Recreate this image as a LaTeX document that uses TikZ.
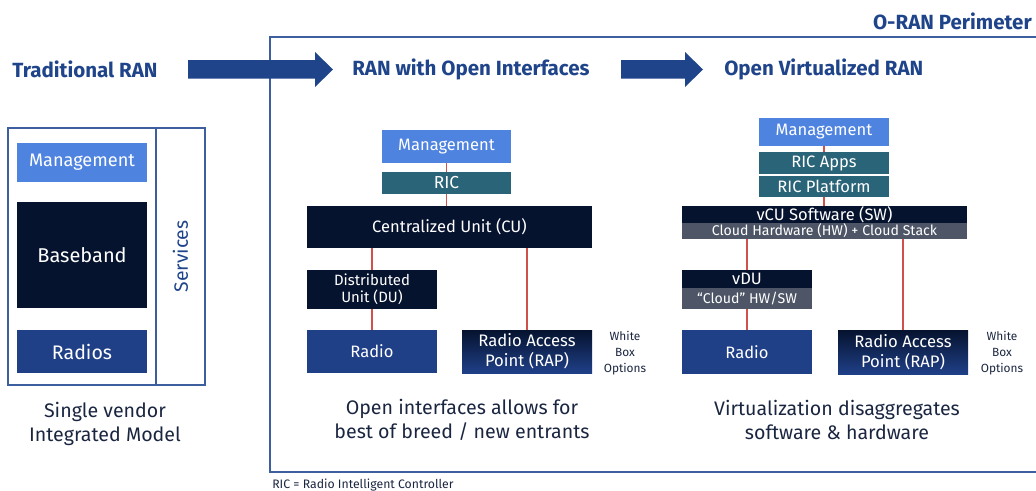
\documentclass[tikz,border=0pt]{standalone}
\usepackage{fontspec}
\setmainfont{Fira Sans}
\definecolor{headblue}{HTML}{1F448A}
\definecolor{mgmtblue}{HTML}{4F83E0}
\definecolor{navy}{HTML}{06132F}
\definecolor{tealc}{HTML}{2A6478}
\definecolor{radioblue}{HTML}{1F3F87}
\definecolor{grayc}{HTML}{4D5566}
\definecolor{linkred}{HTML}{D0504A}
\definecolor{edgeblue}{HTML}{3D5FA0}
\definecolor{capdark}{HTML}{1A2540}
\newcommand\rbox[7]{\node[#6, minimum width={(#4-#2)*0.75pt}, minimum height={(#5-#3)*0.75pt}] (#1) at ({(#2+#4)/2},{(#3+#5)/2}) {#7};}
\tikzset{
  box/.style={inner sep=0pt, outer sep=0pt, text=white, align=center, font=\fontsize{12.4pt}{14pt}\selectfont},
  mgmt/.style={box, fill=mgmtblue},
  ric/.style={box, fill=tealc},
  dark/.style={box, fill=navy},
  gray/.style={box, fill=grayc},
  radio/.style={box, fill=radioblue},
  rap/.style={box, top color=navy, bottom color=radioblue},
  link/.style={draw=linkred, line width=1.1pt},
  frame/.style={draw=edgeblue, line width=1.1pt, inner sep=0pt, outer sep=0pt},
  heading/.style={text=headblue, font=\fontsize{15.4pt}{18pt}\selectfont\bfseries, inner sep=0pt},
  caption/.style={text=capdark, align=center, font=\fontsize{14.7pt}{18pt}\selectfont, inner sep=0pt},
  small/.style={text=capdark, align=center, font=\fontsize{8.9pt}{11.8pt}\selectfont, inner sep=0pt},
  bigarrow/.style={fill=headblue}
}
\begin{document}
\begin{tikzpicture}[x=0.75pt,y=-0.75pt]
\useasboundingbox (0,0) rectangle (1036,490);
% perimeter
\draw[draw=edgeblue, line width=1.1pt] (1036,37) -- (270,37) -- (270,472) -- (1036,472);
\node[heading, anchor=east] (perim) at (1032,21) {O-RAN Perimeter};
% headings
\node[heading, anchor=west] (h1) at (12,69) {Traditional RAN};
\node[heading, anchor=west] (h2) at (352,69) {RAN with Open Interfaces};
\node[heading, anchor=west] (h3) at (724,69) {Open Virtualized RAN};
\fill[bigarrow] (188,60) -- (315,60) -- (315,52) -- (333,69.5) -- (315,87) -- (315,78.5) -- (188,78.5) -- cycle;
\fill[bigarrow] (621,60) -- (685,60) -- (685,52) -- (703,69.5) -- (685,87) -- (685,78.5) -- (621,78.5) -- cycle;
% left traditional
\rbox{trad}{8}{128}{156}{385}{frame, draw}{}
\rbox{svc}{156}{128}{205}{385}{frame, draw}{}
\node[rotate=90, text=headblue, font=\fontsize{14.5pt}{16pt}\selectfont] (svct) at (svc.center) {Services};
\rbox{m1}{17}{143}{147}{182}{mgmt, font=\fontsize{13.6pt}{15pt}\selectfont}{Management}
\rbox{bb}{17}{202}{147}{308}{dark, font=\fontsize{15pt}{17pt}\selectfont}{Baseband}
\rbox{r1}{17}{330}{147}{373}{radio, font=\fontsize{14.7pt}{17pt}\selectfont}{Radios}
\node[caption] (c1) at (105,424) {Single vendor\\Integrated Model};
% middle
\rbox{m2}{382}{130}{511}{163}{mgmt}{Management}
\rbox{ric2}{382}{172}{511}{194}{ric, font=\fontsize{13pt}{15pt}\selectfont}{RIC}
\rbox{cu}{307}{206}{592}{248}{dark}{Centralized Unit (CU)}
\rbox{du}{307}{270}{437}{309}{dark, font=\fontsize{11.2pt}{13pt}\selectfont}{Distributed\\Unit (DU)}
\rbox{rad2}{307}{330}{437}{373}{radio}{Radio}
\rbox{rap2}{462}{330}{592}{373}{rap, font=\fontsize{12.5pt}{15pt}\selectfont}{Radio Access\\Point (RAP)}
\node[small] (wb2) at (625,353) {White\\Box\\Options};
\draw[link] (m2.south) -- (ric2.north);
\draw[link] (ric2.south) -- (ric2.south |- cu.north);
\draw[link] (du.north) -- (du.north |- cu.south);
\draw[link] (du.south) -- (rad2.north);
\draw[link] (rap2.north) -- (rap2.north |- cu.south);
\node[caption] (c2) at (462,420) {Open interfaces allows for\\best of breed / new entrants};
% right
\rbox{m3}{759}{118}{889}{146}{mgmt}{Management}
\rbox{rapps}{759}{152}{889}{174}{ric}{RIC Apps}
\rbox{rplat}{759}{176}{889}{197}{ric}{RIC Platform}
\rbox{vcu}{682}{206}{967}{223}{dark}{vCU Software (SW)}
\rbox{chw}{682}{223}{967}{239}{gray, font=\fontsize{10.6pt}{12pt}\selectfont}{Cloud Hardware (HW) + Cloud Stack}
\rbox{vdu}{682}{270}{812}{288}{dark}{vDU}
\rbox{cdu}{682}{288}{812}{309}{gray, font=\fontsize{10.6pt}{12pt}\selectfont}{``Cloud'' HW/SW}
\rbox{rad3}{682}{330}{812}{374}{radio}{Radio}
\rbox{rap3}{838}{330}{968}{374}{rap, font=\fontsize{12.5pt}{15pt}\selectfont}{Radio Access\\Point (RAP)}
\node[small] (wb3) at (1002,353) {White\\Box\\Options};
\draw[link] (m3.south) -- (rapps.north);
\draw[link] (rplat.south) -- (rplat.south |- vcu.north);
\draw[link] (vdu.north) -- (vdu.north |- chw.south);
\draw[link] (cdu.south) -- (rad3.north);
\draw[link] (rap3.north) -- (rap3.north |- chw.south);
\node[caption] (c3) at (837,420) {Virtualization disaggregates\\software \& hardware};
% footnote
\node[text=capdark, anchor=west, inner sep=0pt, font=\fontsize{9.2pt}{10pt}\selectfont] (note) at (272,485) {RIC = Radio Intelligent Controller};
\end{tikzpicture}
\end{document}
